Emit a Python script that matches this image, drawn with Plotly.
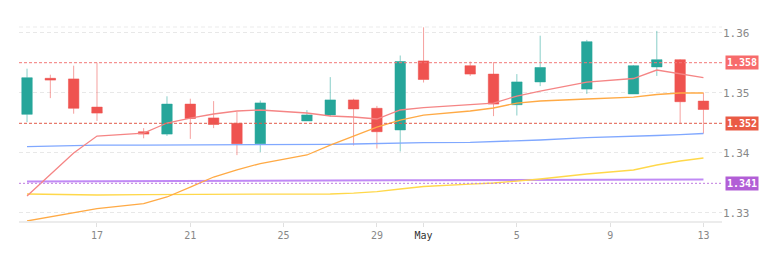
import plotly.graph_objects as go

dates = ["2024-04-14", "2024-04-15", "2024-04-16", "2024-04-17", "2024-04-19", "2024-04-20",
         "2024-04-21", "2024-04-22", "2024-04-23", "2024-04-24", "2024-04-26", "2024-04-27",
         "2024-04-28", "2024-04-29", "2024-04-30", "2024-05-01", "2024-05-03", "2024-05-04",
         "2024-05-05", "2024-05-06", "2024-05-08", "2024-05-10", "2024-05-11", "2024-05-12",
         "2024-05-13"]
opens = [1.3464, 1.3524, 1.3523, 1.3476, 1.3435, 1.3431, 1.3481, 1.3458, 1.3449, 1.3415,
         1.3453, 1.3463, 1.3488, 1.3474, 1.3438, 1.3553, 1.3545, 1.3531, 1.3480, 1.3518,
         1.3506, 1.3498, 1.3543, 1.3555, 1.3486]
highs = [1.3540, 1.3530, 1.3545, 1.3550, 1.3441, 1.3494, 1.3490, 1.3486, 1.3468, 1.3487,
         1.3471, 1.3526, 1.3490, 1.3478, 1.3562, 1.3609, 1.3552, 1.3551, 1.3531, 1.3595,
         1.3588, 1.3546, 1.3603, 1.3556, 1.3500]
lows = [1.3451, 1.3491, 1.3465, 1.3453, 1.3424, 1.3428, 1.3423, 1.3441, 1.3396, 1.3401,
        1.3453, 1.3460, 1.3412, 1.3407, 1.3402, 1.3517, 1.3528, 1.3461, 1.3462, 1.3511,
        1.3498, 1.3498, 1.3528, 1.3449, 1.3432]
closes = [1.3525, 1.3521, 1.3474, 1.3466, 1.3431, 1.3481, 1.3457, 1.3447, 1.3415, 1.3483,
          1.3463, 1.3488, 1.3473, 1.3435, 1.3552, 1.3522, 1.3531, 1.3481, 1.3518, 1.3542,
          1.3585, 1.3545, 1.3555, 1.3485, 1.3472]

ma_red = [1.33278, 1.33645, 1.33995, 1.34278, 1.34328, 1.34495, 1.34578, 1.34645, 1.34695,
          1.34712, 1.34662, 1.34612, 1.34595, 1.34562, 1.34712, 1.34753, 1.34795, 1.34828,
          1.34945, 1.35028, 1.35178, 1.35237, 1.35378, 1.35312, 1.35253]
ma_orange = [1.32862, 1.32928, 1.32995, 1.33070, 1.33153, 1.33262, 1.33428, 1.33595, 1.33712,
             1.33820, 1.33962, 1.34128, 1.34278, 1.34428, 1.34545, 1.34628, 1.34695, 1.34745,
             1.34828, 1.34862, 1.34895, 1.34928, 1.34970, 1.34995, 1.34995]
ma_yellow = [1.33312, 1.33303, 1.33295, 1.33295, 1.33303, 1.33303, 1.33303, 1.33303, 1.33303,
             1.33303, 1.33303, 1.33312, 1.33328, 1.33353, 1.33395, 1.33437, 1.33478, 1.33495,
             1.33528, 1.33562, 1.33645, 1.33712, 1.33795, 1.33862, 1.33912]
ma_blue = [1.34103, 1.34112, 1.34120, 1.34128, 1.34128, 1.34128, 1.34128, 1.34128, 1.34128,
           1.34133, 1.34137, 1.34140, 1.34145, 1.34153, 1.34162, 1.34167, 1.34173, 1.34187,
           1.34198, 1.34212, 1.34253, 1.34270, 1.34287, 1.34303, 1.34320]
ma_purple = [1.33520, 1.33522, 1.33524, 1.33526, 1.33528, 1.33530, 1.33532, 1.33533, 1.33534,
             1.33535, 1.33536, 1.33537, 1.33538, 1.33539, 1.33540, 1.33541, 1.33542, 1.33543,
             1.33544, 1.33545, 1.33547, 1.33549, 1.33551, 1.33552, 1.33553]

level_values = [1.3550, 1.3449, 1.3349]
level_labels = ["1.358", "1.352", "1.341"]
level_colors = ["#f76b6b", "#ea5b45", "#b25ed6"]
level_line_colors = ["#f27878", "#e25a4a", "#c07ce0"]
level_dash = ["3px,2px", "3px,2px", "2px,2px"]

ytick_vals = [1.33, 1.34, 1.35, 1.36]
ytick_text = ["1.33", "1.34", "1.35", "1.36"]
xtick_dates = ["2024-04-17", "2024-04-21", "2024-04-25", "2024-04-29", "2024-05-01",
               "2024-05-05", "2024-05-09", "2024-05-13"]
xtick_text = ["17", "21", "25", "29", "<span style='color:#333'>May</span>", "5", "9", "13"]

fig = go.Figure()

for vals, col, w in [(ma_purple, "#c08af5", 2), (ma_yellow, "#ffd84a", 1.3),
                     (ma_blue, "#80a8ff", 1.3), (ma_orange, "#ffaa45", 1.3),
                     (ma_red, "#f58585", 1.3)]:
    fig.add_trace(go.Scatter(x=dates, y=vals, mode="lines",
                             line=dict(color=col, width=w), hoverinfo="skip",
                             showlegend=False))

fig.add_trace(go.Candlestick(
    x=dates, open=opens, high=highs, low=lows, close=closes,
    increasing=dict(line=dict(color="rgba(38,166,154,0.55)", width=1), fillcolor="#26a69a"),
    decreasing=dict(line=dict(color="rgba(239,83,80,0.55)", width=1), fillcolor="#ef5350"),
    showlegend=False))

for v, lab, col, lcol, dsh in zip(level_values, level_labels, level_colors,
                                  level_line_colors, level_dash):
    fig.add_shape(type="line", xref="paper", x0=0, x1=1, yref="y", y0=v, y1=v,
                  line=dict(color=lcol, width=1, dash=dsh), layer="above")
    fig.add_annotation(xref="paper", x=1, xanchor="left", xshift=3, yref="y", y=v,
                       text="<b>" + lab + "</b>", showarrow=False, bgcolor=col,
                       borderpad=1, width=30,
                       font=dict(color="white", size=10, family="DejaVu Sans Mono"))

fig.add_shape(type="line", xref="paper", x0=0, x1=1, yref="paper", y0=1, y1=1,
              line=dict(color="#ebebeb", width=1, dash="4px,3px"), layer="below")

fig.update_layout(
    width=770, height=278,
    margin=dict(l=19, r=48, t=27, b=57),
    paper_bgcolor="white", plot_bgcolor="white",
    boxgap=0.36,
    xaxis=dict(type="date", range=["2024-04-13 15:45", "2024-05-13 19:05"],
               rangeslider=dict(visible=False),
               tickmode="array", tickvals=xtick_dates, ticktext=xtick_text,
               showgrid=False, zeroline=False, showline=True, linecolor="#ececec",
               linewidth=2, ticks="outside", ticklen=4, tickcolor="#e0e0e0",
               tickfont=dict(size=10, color="#888", family="DejaVu Sans Mono")),
    yaxis=dict(side="right", range=[1.32862, 1.36095], tickmode="array",
               tickvals=ytick_vals, ticktext=ytick_text,
               showgrid=True, gridcolor="#e8e8e8", griddash="4px,3px", gridwidth=1,
               zeroline=False, showline=False, ticks="",
               tickfont=dict(size=11, color="#888", family="DejaVu Sans Mono")),
)

fig.write_html("out.html")
